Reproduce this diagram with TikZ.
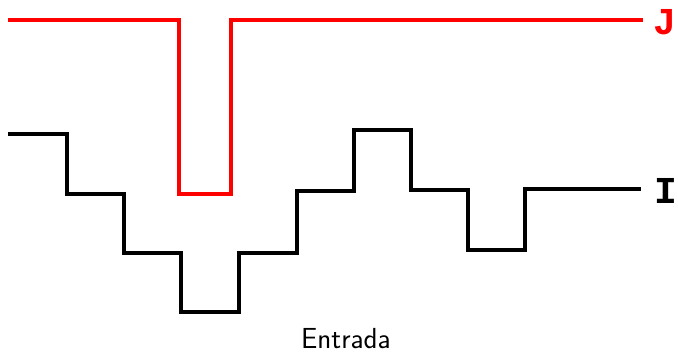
\documentclass[tikz,border=0pt]{standalone}
\usepackage{fontspec}
\newfontfamily\labelfont{Liberation Mono}
\begin{document}
\begin{tikzpicture}[x=1pt,y=-1pt,
  sig/.style={line width=4pt,line join=miter},
  siglabel/.style={font=\labelfont\bfseries\fontsize{38}{38}\selectfont,inner sep=0pt},
  caption/.style={font=\sffamily\fontsize{29}{29}\selectfont,inner sep=0pt}]
\useasboundingbox (0,0) rectangle (678,355);
% red signal J
\draw[sig,red] (8,20) -- (179,20) -- (179,194) -- (231,194) -- (231,20) -- coordinate[pos=1] (jend) (643,20);
\node[siglabel,red,anchor=west] (J) at (653,22) {J};
% black signal I
\draw[sig,black] (8,134) -- (67,134) -- (67,194) -- (124,194) -- (124,253) -- (181,253) -- (181,312)
  -- (239,312) -- (239,253) -- (297,253) -- (297,191) -- (354,191) -- (354,130) -- (411,130)
  -- (411,190) -- (468,190) -- (468,250) -- (525,250) -- (525,189) -- coordinate[pos=1] (iend) (641,189);
\node[siglabel,black,anchor=west] (I) at (654,191) {I};
\node[caption] (E) at (346,339) {Entrada};
\end{tikzpicture}
\end{document}
